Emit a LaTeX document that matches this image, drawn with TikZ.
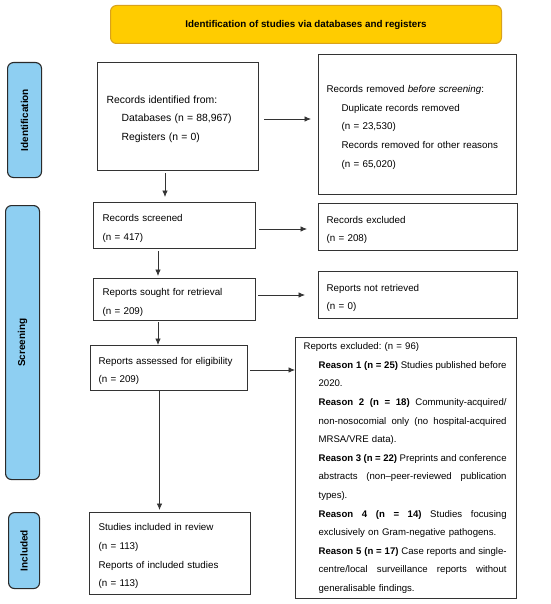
\documentclass[tikz,border=0pt]{standalone}
\usepackage{fontspec}
\setmainfont{Liberation Sans}
\usetikzlibrary{arrows.meta}
\definecolor{bannerfill}{HTML}{FFCC00}
\definecolor{bannerdraw}{HTML}{D9A21B}
\definecolor{sidefill}{HTML}{8ECFF2}
\definecolor{sidedraw}{HTML}{2A2A2A}
\definecolor{linecol}{HTML}{333333}
\tikzset{
  x=1pt, y=-1pt,
  txt/.style={font={\fontsize{9.8pt}{18.6pt}\selectfont\frenchspacing}},
  flowbox/.style={draw=linecol, line width=1.2pt, anchor=north west, inner xsep=0pt, inner ysep=0pt,
    txt, align=left},
  lowered/.style={execute at begin node={\rule{0pt}{12.5pt}}},
  sidebox/.style={draw=sidedraw, fill=sidefill, line width=1.1pt, rounded corners=6pt, anchor=north west,
    inner sep=0pt},
  sidelabel/.style={font={\fontsize{10pt}{12pt}\selectfont\bfseries}, rotate=90},
  arr/.style={draw=linecol, line width=0.8pt, -{Latex[length=6.5pt,width=5.5pt]}},
}
\newcommand{\ind}{\hspace*{15pt}}
\newcommand{\jl}[1]{{\spaceskip=0.278em plus 10em minus 0.12em\relax\makebox[188pt][s]{#1}}}
\begin{document}
\begin{tikzpicture}
\useasboundingbox (0,0) rectangle (550,604);
% banner
\node[draw=bannerdraw, fill=bannerfill, line width=1pt, rounded corners=6pt, anchor=north west,
  minimum width=391pt, minimum height=38pt, inner sep=0pt,
  font={\fontsize{9.8pt}{12pt}\selectfont\bfseries}] (banner) at (110,5)
  {Identification of studies via databases and registers};
% side boxes
\node[sidebox, minimum width=34pt, minimum height=115pt] (sid) at (7,62) {};
\node[sidelabel] (sidl) at (sid.center) {Identification};
\node[sidebox, minimum width=34pt, minimum height=274pt] (sscr) at (5,205) {};
\node[sidelabel] (sscrl) at (sscr.center) {Screening};
\node[sidebox, minimum width=31pt, minimum height=76pt] (sinc) at (8,512) {};
\node[sidelabel] (sincl) at (sinc.center) {Included};
% boxes
\node[flowbox, lowered, minimum width=161pt, minimum height=108pt, text width=143pt] (b1) at (97,62)
  {\fontsize{10.4pt}{18.6pt}\selectfont Records identified from:\\ \ind Databases (n = 88,967)\\ \ind Registers (n = 0)};
\node[flowbox, lowered, minimum width=198pt, minimum height=140pt, text width=182pt] (b2) at (318,54)
  {Records removed \textit{before screening}:\\ \ind Duplicate records removed\\ \ind (n = 23,530)\\
   \ind Records removed for other reasons\\ \ind (n = 65,020)};
\node[flowbox, lowered, minimum width=162pt, minimum height=46pt, text width=144pt] (b3) at (93,202)
  {Records screened\\ (n = 417)};
\node[flowbox, lowered, minimum width=199pt, minimum height=47pt, text width=183pt] (b4) at (318,203)
  {Records excluded\\ (n = 208)};
\node[flowbox, lowered, minimum width=162pt, minimum height=42pt, text width=144pt] (b5) at (93,278)
  {Reports sought for retrieval\\ (n = 209)};
\node[flowbox, lowered, minimum width=199pt, minimum height=47pt, text width=183pt] (b6) at (318,271)
  {Reports not retrieved\\ (n = 0)};
\node[flowbox, lowered, minimum width=157pt, minimum height=45pt, text width=141pt] (b7) at (90,345)
  {Reports assessed for eligibility\\ (n = 209)};
\node[flowbox, minimum width=221pt, minimum height=261pt, text width=205pt,
  font={\fontsize{9.6pt}{18.6pt}\selectfont\frenchspacing}] (b8) at (295,337)
  {Reports excluded: (n = 96)\\
   \ind\jl{\textbf{Reason 1 (n = 25)} Studies published before}\\
   \ind 2020.\\
   \ind\jl{\textbf{Reason 2 (n = 18)} Community-acquired/}\\
   \ind\jl{non-nosocomial only (no hospital-acquired}\\
   \ind MRSA/VRE data).\\
   \ind\jl{\textbf{Reason 3 (n = 22)} Preprints and conference}\\
   \ind\jl{abstracts (non–peer-reviewed publication}\\
   \ind types).\\
   \ind\jl{\textbf{Reason 4 (n = 14)} Studies focusing}\\
   \ind exclusively on Gram-negative pathogens.\\
   \ind\jl{\textbf{Reason 5 (n = 17)} Case reports and single-}\\
   \ind\jl{centre/local surveillance reports without}\\
   \ind generalisable findings.};
\node[flowbox, lowered, minimum width=161pt, minimum height=82pt, text width=143pt] (b9) at (89,512)
  {Studies included in review\\ (n = 113)\\ Reports of included studies\\ (n = 113)};
% connector x positions
\coordinate (x1) at (165,0);
\coordinate (x3) at (158,0);
\coordinate (x7) at (159.5,0);
% arrows
\draw[arr, shorten <=5pt, shorten >=7pt] (b1.east |- 0,119) -- (b2.west |- 0,119);
\draw[arr, shorten <=2pt, shorten >=5pt] (b1.south -| x1) -- (b3.north -| x1);
\draw[arr, shorten <=3pt, shorten >=11pt] (b3.east |- 0,229) -- (b4.west |- 0,229);
\draw[arr, shorten <=2pt, shorten >=2pt] (b3.south -| x3) -- (b5.north -| x3);
\draw[arr, shorten <=2pt, shorten >=13pt] (b5.east |- 0,295) -- (b6.west |- 0,295);
\draw[arr, shorten <=1pt] (b5.south -| x3) -- (b7.north -| x3);
\draw[arr, shorten <=2pt] (b7.east |- 0,370) -- (b8.west |- 0,370);
\draw[arr, shorten >=2pt] (b7.south -| x7) -- (b9.north -| x7);
\end{tikzpicture}
\end{document}
